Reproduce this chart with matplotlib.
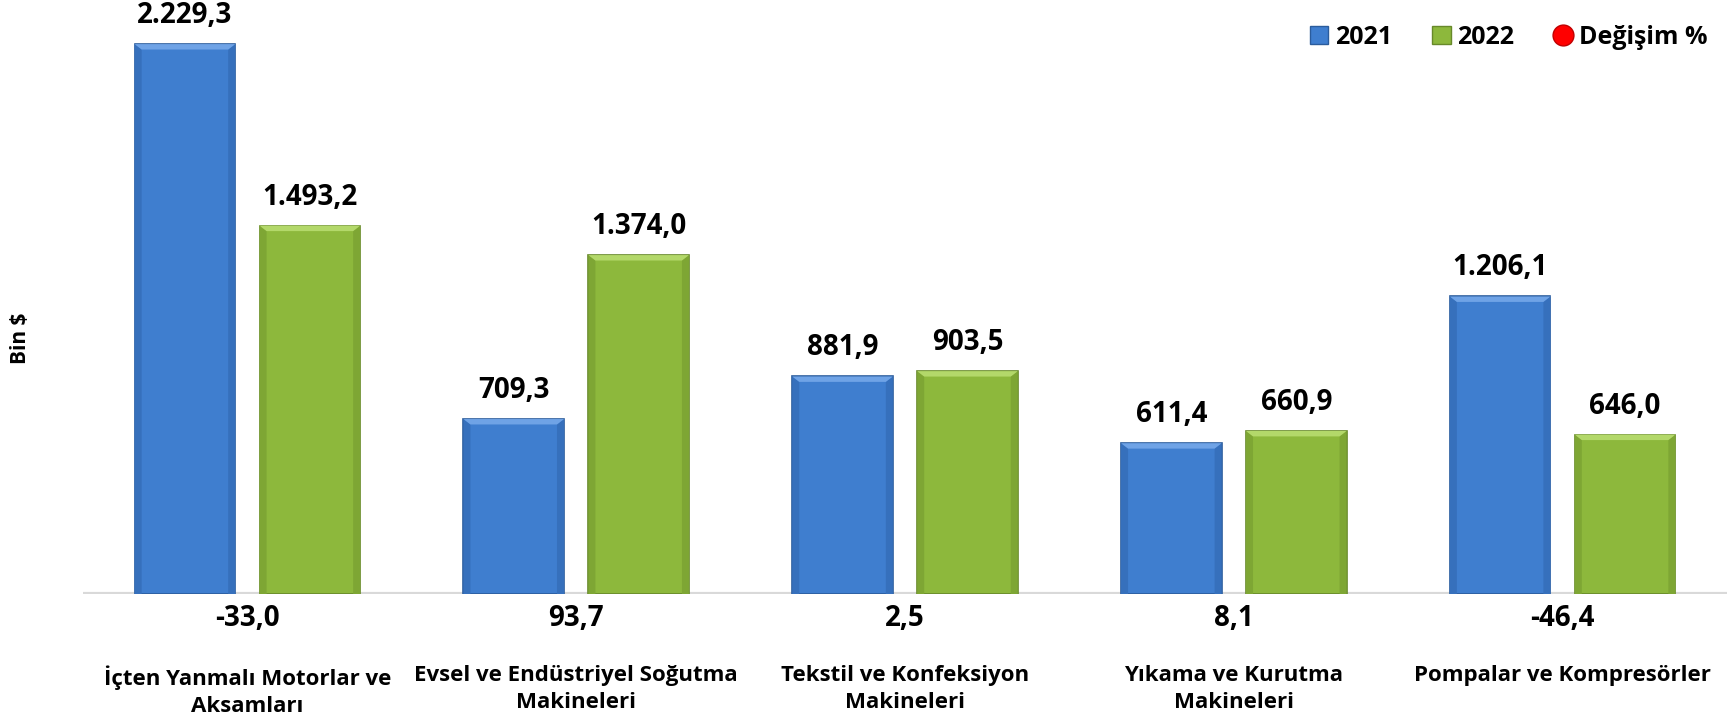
import matplotlib.pyplot as plt
import numpy as np
from matplotlib.patches import Patch
from matplotlib.lines import Line2D

plt.rcParams['font.family'] = ['Open Sans', 'DejaVu Sans']
plt.rcParams['font.weight'] = 'bold'

categories = ['İçten Yanmalı Motorlar ve\nAksamları',
              'Evsel ve Endüstriyel Soğutma\nMakineleri',
              'Tekstil ve Konfeksiyon\nMakineleri',
              'Yıkama ve Kurutma\nMakineleri',
              'Pompalar ve Kompresörler']
values_2021 = [2229.3, 709.3, 881.9, 611.4, 1206.1]
values_2022 = [1493.2, 1374.0, 903.5, 660.9, 646.0]
change_pct = [-33.0, 93.7, 2.5, 8.1, -46.4]


def tr_fmt(v):
    # Turkish number style: 1.234,5
    s = f"{v:,.1f}"
    return s.replace(',', 'X').replace('.', ',').replace('X', '.')


fig = plt.figure(figsize=(17.35, 7.23), dpi=100)
ax = fig.add_axes([83 / 1735, 129 / 723, 1644 / 1735, 592 / 723])

x = np.arange(len(categories))
w = 0.306
off = 0.19

blue, blue_edge = '#3F7ECF', '#2B5C9C'
green, green_edge = '#8DB83C', '#67892A'

b1 = ax.bar(x - off, values_2021, w, color=blue, edgecolor=blue_edge, linewidth=1.2, zorder=3)
b2 = ax.bar(x + off, values_2022, w, color=green, edgecolor=green_edge, linewidth=1.2, zorder=3)

# bevel: light strip on top, slightly darker sides
for bars, top_col, side_col in ((b1, '#6FA3E6', '#3670BC'), (b2, '#B3D86A', '#7EA634')):
    for r in bars:
        bx, bw, bh = r.get_x(), r.get_width(), r.get_height()
        ax.fill([bx, bx + bw * 0.07, bx + bw * 0.07, bx],
                [0, 0, bh - 22, bh], color=side_col, zorder=4, lw=0)
        ax.fill([bx + bw, bx + bw * 0.93, bx + bw * 0.93, bx + bw],
                [0, 0, bh - 22, bh], color=side_col, zorder=4, lw=0)
        ax.fill([bx, bx + bw, bx + bw * 0.93, bx + bw * 0.07],
                [bh, bh, bh - 22, bh - 22], color=top_col, zorder=4, lw=0)

for vals, xs in ((values_2021, x - off), (values_2022, x + off)):
    for xi, v in zip(xs, vals):
        ax.annotate(tr_fmt(v), (xi, v), xytext=(0, 14), textcoords='offset pixels',
                    ha='center', va='bottom', fontsize=20, fontweight='bold',
                    annotation_clip=False)

for xi, c in zip(x, change_pct):
    ax.annotate(tr_fmt(c), (xi, 0), xytext=(0, -24), textcoords='offset pixels',
                ha='center', va='center', fontsize=20, fontweight='bold',
                annotation_clip=False)

for xi, cat in zip(x, categories):
    ax.annotate(cat, (xi, 0), xytext=(0, -71), textcoords='offset pixels',
                ha='center', va='top', fontsize=16, fontweight='bold',
                linespacing=1.38, annotation_clip=False)

ax.axhline(0, color='#D9D9D9', lw=3, zorder=2)
ax.set_xlim(-0.5, 4.5)
ax.set_ylim(0, 2400)
ax.set_xticks([])
ax.set_yticks([])
for s in ax.spines.values():
    s.set_visible(False)

fig.text(20 / 1735, 1 - 338 / 723, 'Bin $', rotation=90, ha='center', va='center',
         fontsize=15, fontweight='bold')

handles = [Patch(facecolor=blue, edgecolor=blue_edge, label='2021'),
           Patch(facecolor=green, edgecolor=green_edge, label='2022'),
           Line2D([], [], marker='o', color='none', markerfacecolor='#FF0000',
                  markeredgecolor='#C00000', markersize=15, label='Değişim %')]
fig.legend(handles=handles, loc='center right', bbox_to_anchor=(0.997, 1 - 37 / 723),
           ncol=3, frameon=False, handlelength=0.75, handleheight=0.75,
           handletextpad=0.25, columnspacing=1.6, prop={'weight': 'bold', 'size': 18})

fig.savefig('out.png', dpi=100)
